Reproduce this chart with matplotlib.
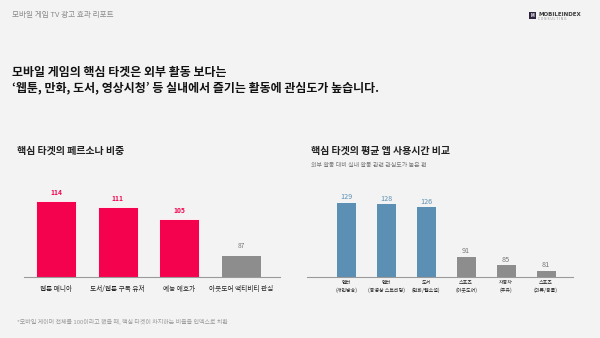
import matplotlib
matplotlib.use("Agg")
import matplotlib.pyplot as plt
from matplotlib.patches import Rectangle

plt.rcParams['font.family'] = ['Noto Sans CJK KR', 'DejaVu Sans']

# Data
persona_labels = ["웹툰 매니아", "도서/웹툰 구독 유저", "예능 애호가", "아웃도어 액티비티 관심"]
persona_values = [114, 111, 105, 87]
persona_colors = ["#f5024f", "#f5024f", "#f5024f", "#8d8d8d"]

usage_labels = ["엔터\n(개인방송)", "엔터\n(동영상 스트리밍)", "도서\n(만화/웹소설)",
                "스포츠\n(아웃도어)", "자동차\n(주유)", "스포츠\n(의류/용품)"]
usage_values = [129, 128, 126, 91, 85, 81]
usage_colors = ["#5b8fb3", "#5b8fb3", "#5b8fb3", "#8d8d8d", "#8d8d8d", "#8d8d8d"]

bg = "#f3f3f3"
W, H = 600, 338
fig = plt.figure(figsize=(6, 3.38), dpi=100, facecolor=bg)


def fx(px):
    return px / W


def fy(py):
    return 1 - py / H


# header
fig.text(fx(12), fy(15.5), "모바일 게임 TV 광고 효과 리포트", fontsize=5.5, color="#8a8a8a", va="center")
fig.patches.append(Rectangle((fx(529), fy(19)), fx(7), 7 / H, transform=fig.transFigure,
                             facecolor="#2d2540", edgecolor="none"))
fig.text(fx(532.5), fy(15.5), "M", fontsize=3.2, color="white", ha="center", va="center", weight="bold")
fig.text(fx(538.5), fy(14), "MOBILEINDEX", fontsize=4.0, color="#3a3a3a", va="center", weight="bold",
         family="DejaVu Sans")
fig.text(fx(538.5), fy(19.5), "C O N S U L T I N G", fontsize=2.2, color="#8a8a8a", va="center",
         family="DejaVu Sans")

# main title
fig.text(fx(12), fy(72), "모바일 게임의 핵심 타겟은 외부 활동 보다는", fontsize=8.6, weight="bold",
         color="#111111", va="center")
fig.text(fx(12), fy(88), "‘웹툰, 만화, 도서, 영상시청’ 등 실내에서 즐기는 활동에 관심도가 높습니다.",
         fontsize=8.6, weight="bold", color="#111111", va="center")

# section titles
fig.text(fx(17), fy(151), "핵심 타겟의 페르소나 비중", fontsize=7.2, weight="bold", color="#222222", va="center")
fig.text(fx(311), fy(151), "핵심 타겟의 평균 앱 사용시간 비교", fontsize=7.2, weight="bold", color="#222222",
         va="center")
fig.text(fx(311), fy(165), "외부 활동 대비 실내 활동 관련 관심도가 높은 편", fontsize=4.3, color="#777777",
         va="center")

# footnote
fig.text(fx(17), fy(322), "*모바일 게이머 전체를 100이라고 했을 때, 핵심 타겟이 차지하는 비율을 인덱스로 치환",
         fontsize=4.3, color="#9a9a9a", va="center")

# left chart
ax1 = fig.add_axes([fx(24), fy(277), fx(280 - 24), (277 - 190) / H])
ax1.set_facecolor("none")
x1 = range(len(persona_values))
ax1.bar(x1, persona_values, width=0.65, bottom=0, color=persona_colors,
        edgecolor="#ffffff", linewidth=0.6)
ax1.set_xlim(-0.52, 3.63)
ax1.set_ylim(76, 119.5)
for i, v in enumerate(persona_values):
    c = persona_colors[i]
    ax1.text(i, v + 2.5, str(v), ha="center", va="bottom", fontsize=4.8,
             color=c if c != "#8d8d8d" else "#777777", weight="bold" if c != "#8d8d8d" else "normal")
ax1.set_xticks(list(x1))
ax1.set_xticklabels(persona_labels, fontsize=4.8, color="#222222")
ax1.tick_params(axis="x", length=0, pad=6)
ax1.set_yticks([])
for s in ["top", "right", "left"]:
    ax1.spines[s].set_visible(False)
ax1.spines["bottom"].set_color("#9a9a9a")
ax1.spines["bottom"].set_linewidth(0.8)

# right chart
ax2 = fig.add_axes([fx(307), fy(277), fx(573 - 307), (277 - 190) / H])
ax2.set_facecolor("none")
x2 = range(len(usage_values))
ax2.bar(x2, usage_values, width=0.48, bottom=0, color=usage_colors,
        edgecolor="#ffffff", linewidth=0.6)
ax2.set_xlim(-0.975, 5.675)
ax2.set_ylim(76, 137.4)
for i, v in enumerate(usage_values):
    c = "#5b8fb3" if usage_colors[i] != "#8d8d8d" else "#777777"
    ax2.text(i, v + 0.3, str(v), ha="center", va="bottom", fontsize=5.2, color=c)
ax2.set_xticks(list(x2))
ax2.set_xticklabels(usage_labels, fontsize=3.6, color="#222222", linespacing=1.5)
ax2.tick_params(axis="x", length=0, pad=2.5)
ax2.set_yticks([])
for s in ["top", "right", "left"]:
    ax2.spines[s].set_visible(False)
ax2.spines["bottom"].set_color("#9a9a9a")
ax2.spines["bottom"].set_linewidth(0.8)

fig.savefig("out.png", dpi=100, facecolor=bg)
